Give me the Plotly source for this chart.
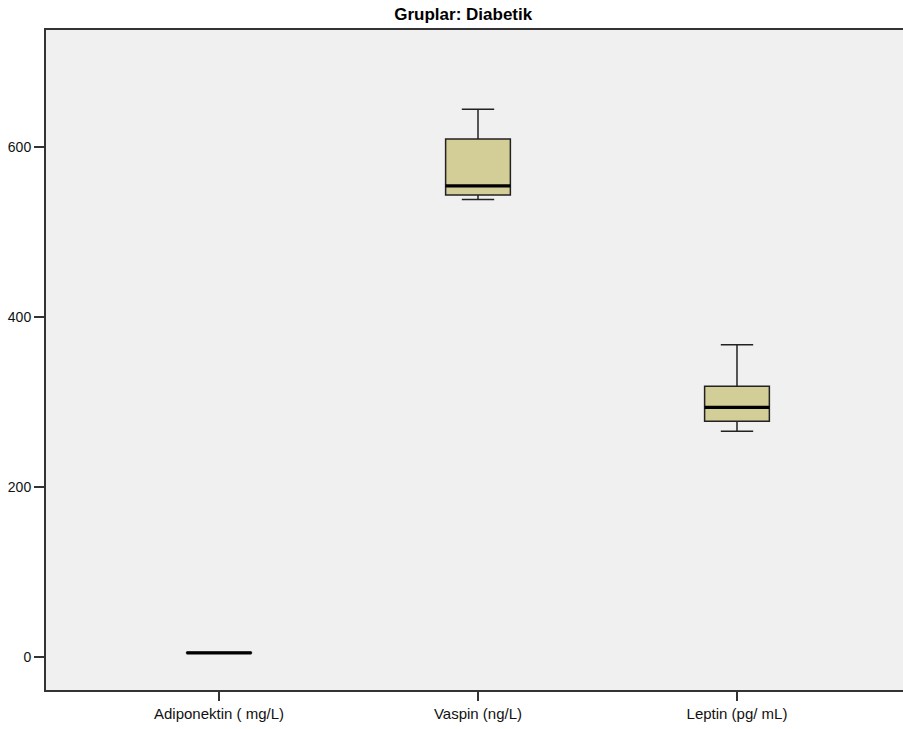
import plotly.graph_objects as go

# Summary statistics per marker (Diabetik group)
categories = ["Adiponektin ( mg/L)", "Vaspin (ng/L)", "Leptin (pg/ mL)"]
lower_whisker = [4.6, 538.4, 265.7]
q1_values = [4.8, 543.6, 277.4]
median_values = [5.0, 554.5, 293.9]
q3_values = [5.2, 609.7, 318.6]
upper_whisker = [5.4, 644.6, 367.6]
y_ticks = [0, 200, 400, 600]

positions = list(range(len(categories)))
box_width = 0.25

fig = go.Figure()

fig.add_trace(go.Box(
    x=positions,
    q1=q1_values,
    median=median_values,
    q3=q3_values,
    lowerfence=lower_whisker,
    upperfence=upper_whisker,
    width=box_width,
    whiskerwidth=0.5,
    fillcolor="#D3CE97",
    line=dict(color="#222222", width=1.5),
    boxpoints=False,
    hoverinfo="skip",
    showlegend=False,
))

# Thick median bars drawn on top of each box
mx, my = [], []
for p, m in zip(positions, median_values):
    mx += [p - box_width / 2, p + box_width / 2, None]
    my += [m, m, None]
fig.add_trace(go.Scatter(
    x=mx, y=my, mode="lines",
    line=dict(color="#000000", width=3.2),
    hoverinfo="skip", showlegend=False,
))

fig.update_layout(
    width=903, height=729,
    margin=dict(l=46, r=0, t=30, b=39),
    paper_bgcolor="#FFFFFF",
    plot_bgcolor="#F0F0F0",
    title=dict(
        text="<b>Gruplar: Diabetik</b>",
        x=0.513, xanchor="center", y=0.981, yanchor="middle",
        font=dict(family="Liberation Sans Narrow, Arial Narrow, Liberation Sans, Arial", size=17, color="#000000"),
    ),
    font=dict(family="Liberation Sans, Arial, sans-serif", size=14, color="#222222"),
)

fig.update_xaxes(
    range=[-0.668, 2.641],
    tickmode="array", tickvals=positions, ticktext=categories,
    ticks="outside", ticklen=9, tickwidth=1.5, tickcolor="#333333",
    showline=True, linecolor="#333333", linewidth=2, mirror=True,
    showgrid=False, zeroline=False,
    tickfont=dict(size=15, color="#111111"),
)
fig.update_yaxes(
    range=[-38.8, 737.9],
    tickmode="array", tickvals=y_ticks,
    ticks="outside", ticklen=10, tickwidth=1.5, tickcolor="#333333",
    showline=True, linecolor="#333333", linewidth=2,
    showgrid=False, zeroline=False,
    tickfont=dict(size=14, color="#111111"),
)

fig.write_html("out.html")
